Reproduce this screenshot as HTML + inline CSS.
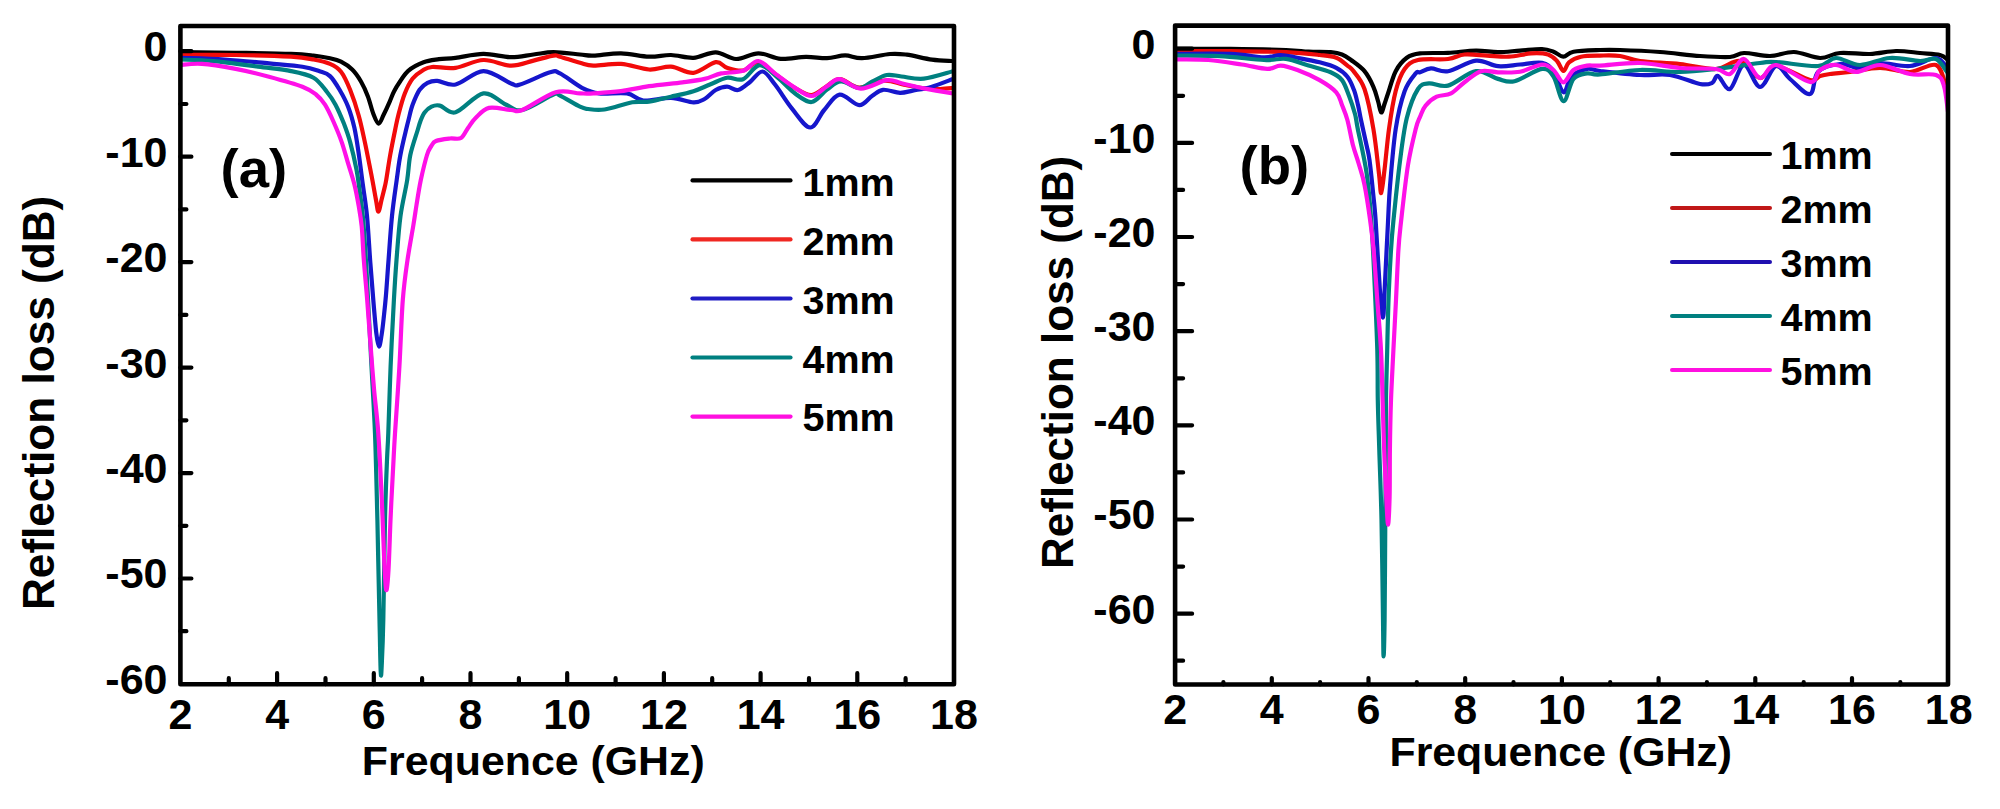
<!DOCTYPE html>
<html><head><meta charset="utf-8"><title>Reflection loss</title>
<style>html,body{margin:0;padding:0;background:#fff;overflow:hidden;width:2000px;height:809px}svg{display:block}</style>
</head><body>
<svg width="2000" height="809" viewBox="0 0 2000 809">
<rect width="2000" height="809" fill="#fff"/>
<clipPath id="ca"><rect x="180.4" y="26" width="773.6" height="658.2"/></clipPath>
<g clip-path="url(#ca)" fill="none" stroke-width="4.2" stroke-linejoin="round" stroke-linecap="round">
<path stroke="#000000" d="M180.0,52.2 C189.3,52.3 217.5,52.5 236.0,52.8 C254.5,53.1 278.1,53.4 291.0,53.9 C303.9,54.4 307.0,54.9 313.5,55.6 C320.0,56.3 325.4,57.3 330.0,58.3 C334.6,59.3 337.3,59.8 341.0,61.7 C344.7,63.6 348.8,66.2 352.2,69.5 C355.6,72.8 358.5,77.2 361.1,81.7 C363.7,86.2 365.8,90.8 367.8,96.2 C369.9,101.6 371.6,109.4 373.4,114.0 C375.2,118.6 376.9,123.4 378.6,123.6 C380.3,123.8 381.7,118.6 383.5,115.0 C385.3,111.4 387.9,105.7 389.6,101.8 C391.4,97.9 392.4,94.6 394.0,91.5 C395.6,88.4 396.5,86.7 398.9,83.3 C401.3,79.9 404.1,74.4 408.2,70.9 C412.3,67.4 418.5,64.2 423.6,62.3 C428.7,60.3 433.7,60.0 439.0,59.2 C444.3,58.5 448.2,58.7 455.6,57.8 C463.0,56.9 474.2,54.0 483.4,53.9 C492.6,53.8 502.6,57.1 511.0,57.2 C519.4,57.3 526.4,55.3 533.5,54.5 C540.6,53.7 545.8,52.2 553.5,52.2 C561.2,52.2 573.4,53.9 580.0,54.5 C586.6,55.1 586.6,55.8 593.4,55.6 C600.2,55.4 611.7,53.1 621.0,53.3 C630.3,53.5 640.7,56.4 649.0,56.7 C657.3,57.0 663.6,54.8 671.0,55.0 C678.4,55.2 686.0,58.2 693.5,57.8 C701.0,57.3 708.6,52.1 715.7,52.3 C722.8,52.5 728.9,58.8 736.0,59.0 C743.1,59.2 750.9,53.3 758.4,53.3 C765.9,53.3 772.9,58.3 780.8,58.9 C788.7,59.5 798.3,56.9 806.0,56.8 C813.7,56.7 820.5,58.4 827.0,58.2 C833.5,58.0 839.4,55.4 845.2,55.4 C851.0,55.4 854.5,58.4 862.0,58.2 C869.5,58.0 882.5,54.6 890.0,54.0 C897.5,53.4 899.8,53.8 906.8,54.7 C913.8,55.6 924.5,58.6 932.0,59.6 C939.5,60.6 948.3,60.8 951.6,61.0"/>
<path stroke="#f20a0a" d="M180.0,55.0 C189.3,55.0 217.5,54.7 236.0,55.0 C254.5,55.3 278.1,56.0 291.0,56.7 C303.9,57.5 307.0,58.3 313.5,59.5 C320.0,60.7 325.4,61.9 330.0,63.9 C334.6,65.9 337.6,67.4 341.0,71.7 C344.4,76.0 347.3,82.8 350.2,90.0 C353.1,97.2 356.2,106.5 358.6,115.2 C361.1,123.9 362.8,132.6 364.9,142.4 C367.0,152.2 369.3,164.3 371.2,173.9 C373.1,183.5 374.8,193.7 376.0,200.0 C377.2,206.3 377.5,211.7 378.4,211.7 C379.3,211.7 380.6,203.6 381.5,200.0 C382.4,196.4 383.2,193.3 384.0,190.0 C384.8,186.7 385.2,185.8 386.2,180.0 C387.2,174.2 388.7,163.3 390.2,155.0 C391.7,146.7 393.7,136.8 395.1,130.0 C396.5,123.2 396.9,120.6 398.5,114.5 C400.1,108.4 402.4,99.5 404.8,93.5 C407.2,87.5 409.7,82.3 412.7,78.5 C415.7,74.7 419.4,72.4 422.6,70.5 C425.8,68.6 426.5,67.5 432.0,67.0 C437.5,66.5 447.0,69.0 455.6,67.8 C464.2,66.6 474.2,60.4 483.4,60.0 C492.6,59.6 502.6,65.5 511.0,65.6 C519.4,65.7 526.4,62.3 533.5,60.6 C540.6,58.9 549.1,56.2 553.5,55.6 C557.9,55.0 555.6,55.5 560.0,56.7 C564.4,57.9 574.4,61.3 580.0,62.8 C585.6,64.3 586.6,65.4 593.4,65.6 C600.2,65.8 611.7,63.2 621.0,63.9 C630.3,64.5 640.7,69.0 649.0,69.5 C657.3,70.0 663.6,66.2 671.0,66.7 C678.4,67.2 686.0,73.5 693.5,72.8 C701.0,72.0 710.1,63.0 715.7,62.2 C721.3,61.4 722.5,66.4 727.0,67.8 C731.5,69.2 737.8,71.5 743.0,70.5 C748.2,69.5 753.1,61.4 758.4,62.0 C763.7,62.6 768.9,69.7 775.0,74.0 C781.1,78.3 788.9,84.5 795.0,88.0 C801.1,91.5 806.3,95.3 811.6,95.0 C816.9,94.7 822.3,88.7 827.0,86.0 C831.7,83.3 834.6,78.7 840.0,79.0 C845.4,79.3 851.8,87.3 859.2,87.6 C866.6,87.9 876.9,81.1 884.4,80.6 C891.9,80.1 897.2,83.5 904.0,84.8 C910.8,86.1 919.0,87.8 925.0,88.5 C931.0,89.2 935.3,89.1 940.0,89.0 C944.7,88.9 950.8,88.2 953.0,88.0"/>
<path stroke="#1616cc" d="M180.0,57.8 C187.4,58.1 209.7,58.6 224.5,59.5 C239.3,60.4 256.0,62.2 269.0,63.4 C282.0,64.6 294.1,65.4 302.4,66.7 C310.7,68.0 314.4,69.5 319.0,71.1 C323.6,72.7 326.6,72.9 330.0,76.1 C333.4,79.2 336.7,84.9 339.7,90.0 C342.7,95.1 345.7,100.5 348.1,106.8 C350.6,113.1 352.6,120.1 354.4,127.8 C356.1,135.5 357.2,143.5 358.6,152.9 C360.0,162.3 361.4,173.9 362.8,184.4 C364.2,194.9 365.8,203.4 367.0,215.9 C368.2,228.4 369.1,245.7 370.1,259.7 C371.2,273.7 372.3,287.8 373.3,300.0 C374.3,312.2 375.4,325.2 376.3,333.0 C377.2,340.8 378.1,346.2 379.0,346.5 C379.9,346.8 380.8,339.8 381.6,335.0 C382.4,330.2 383.0,324.5 383.7,318.0 C384.4,311.5 385.1,305.3 385.9,296.0 C386.7,286.7 387.4,275.3 388.4,262.0 C389.4,248.7 390.6,229.7 392.0,216.0 C393.4,202.3 395.3,190.2 396.7,180.0 C398.1,169.8 398.8,163.3 400.4,155.0 C401.9,146.7 404.6,135.8 406.0,130.0 C407.4,124.2 407.4,124.2 408.5,120.0 C409.6,115.8 410.8,109.6 412.7,104.6 C414.6,99.6 417.1,93.4 419.6,89.8 C422.1,86.2 424.5,84.3 427.5,82.8 C430.5,81.3 432.7,80.6 437.4,80.9 C442.1,81.2 447.9,86.1 455.6,84.5 C463.3,82.9 474.2,71.3 483.4,71.1 C492.6,70.9 504.9,81.2 511.0,83.4 C517.1,85.6 513.5,86.3 520.0,84.5 C526.5,82.7 543.3,74.1 550.0,72.3 C556.7,70.5 554.7,70.8 560.0,73.4 C565.3,76.0 575.5,84.5 582.0,87.8 C588.5,91.1 591.5,92.5 599.0,93.4 C606.5,94.3 619.6,92.2 627.0,93.4 C634.4,94.6 636.1,99.9 643.4,100.6 C650.7,101.3 662.6,97.5 671.0,97.8 C679.4,98.1 687.9,102.1 693.5,102.3 C699.1,102.5 700.9,101.0 704.6,99.0 C708.3,97.0 712.0,92.0 715.7,90.0 C719.4,88.0 723.3,86.7 727.0,86.7 C730.7,86.7 734.2,90.8 738.0,90.0 C741.8,89.2 745.9,85.1 750.0,82.0 C754.1,78.9 758.4,71.0 762.6,71.5 C766.8,72.0 770.3,78.6 775.2,84.8 C780.1,91.0 786.2,101.5 792.0,108.6 C797.8,115.7 804.8,127.3 810.2,127.5 C815.6,127.7 819.3,115.5 824.2,110.0 C829.1,104.5 833.8,95.4 839.6,94.6 C845.4,93.8 853.8,104.9 859.2,105.1 C864.6,105.3 868.0,98.5 872.0,96.0 C876.0,93.5 878.3,90.3 883.0,89.8 C887.7,89.3 895.0,92.7 900.0,92.8 C905.0,92.9 907.5,91.6 912.7,90.6 C917.9,89.6 924.5,88.8 931.2,86.9 C937.9,85.0 949.4,80.3 953.0,79.0"/>
<path stroke="#008080" d="M180.0,59.5 C185.6,59.8 200.4,59.9 213.4,61.1 C226.4,62.3 245.1,65.0 258.0,66.7 C270.9,68.4 281.8,69.2 291.0,71.1 C300.2,72.9 307.5,74.3 313.5,77.8 C319.5,81.3 323.3,87.5 327.0,92.0 C330.7,96.5 332.7,99.4 335.5,104.7 C338.3,110.0 341.4,117.3 343.9,123.6 C346.3,129.9 348.1,134.7 350.2,142.4 C352.3,150.1 354.9,161.6 356.5,169.7 C358.1,177.8 358.6,183.0 359.6,190.7 C360.7,198.4 361.8,204.4 362.8,215.9 C363.9,227.4 364.9,244.0 365.9,259.7 C366.9,275.4 367.7,292.2 368.6,310.0 C369.5,327.8 370.4,346.1 371.5,366.7 C372.6,387.2 374.0,407.8 375.0,433.3 C376.0,458.9 376.6,488.9 377.4,520.0 C378.1,551.1 378.9,594.7 379.5,620.0 C380.1,645.3 380.3,664.0 380.7,671.7 C381.1,679.4 381.3,674.6 381.7,666.0 C382.1,657.4 382.8,644.3 383.3,620.0 C383.9,595.7 384.4,546.7 385.0,520.0 C385.6,493.3 386.4,474.5 387.0,460.0 C387.6,445.5 387.7,448.6 388.3,433.0 C388.9,417.4 389.7,388.9 390.6,366.7 C391.5,344.5 392.9,317.8 393.9,300.0 C394.9,282.2 395.4,274.0 396.5,260.0 C397.6,246.0 398.7,229.3 400.5,216.0 C402.3,202.7 405.6,190.2 407.2,180.0 C408.8,169.8 408.6,163.3 410.3,155.0 C412.1,146.7 416.0,135.7 417.7,130.0 C419.4,124.3 419.4,123.9 420.5,121.0 C421.6,118.1 422.8,114.9 424.6,112.5 C426.4,110.1 428.9,107.8 431.5,106.6 C434.1,105.4 436.0,104.6 440.0,105.6 C444.0,106.5 448.4,114.3 455.6,112.3 C462.8,110.3 475.0,94.7 483.4,93.4 C491.8,92.1 499.2,101.7 505.7,104.5 C512.2,107.3 514.4,111.7 522.4,110.0 C530.4,108.3 547.2,96.9 553.5,94.5 C559.8,92.1 555.6,93.6 560.0,95.6 C564.4,97.6 575.3,104.5 580.0,106.7 C584.7,108.9 583.9,108.5 588.0,109.0 C592.1,109.5 597.1,110.6 604.5,109.5 C611.9,108.4 624.9,103.6 632.3,102.3 C639.7,101.0 642.5,102.6 649.0,101.7 C655.5,100.8 663.6,98.5 671.0,96.7 C678.4,95.0 687.0,93.2 693.5,91.2 C700.0,89.2 704.4,86.7 710.0,84.5 C715.6,82.3 721.5,78.7 727.0,77.8 C732.5,76.9 737.5,81.3 743.0,79.2 C748.5,77.1 754.0,65.4 759.8,65.2 C765.6,65.0 772.2,73.1 778.0,77.8 C783.8,82.5 789.2,89.2 794.8,93.2 C800.4,97.2 806.2,102.6 811.6,102.0 C817.0,101.4 822.1,92.9 827.0,89.5 C831.9,86.1 835.6,81.8 841.0,81.5 C846.4,81.2 854.0,88.0 859.2,88.0 C864.4,88.0 867.4,83.9 872.0,81.7 C876.6,79.5 881.8,75.9 886.7,75.0 C891.6,74.1 895.3,75.9 901.5,76.5 C907.7,77.1 915.2,79.6 923.8,78.7 C932.4,77.8 948.1,72.5 953.0,71.3"/>
<path stroke="#ff10e8" d="M180.0,65.0 C183.7,64.8 192.7,63.2 202.0,63.9 C211.3,64.5 224.4,66.8 235.6,68.9 C246.8,71.0 257.9,73.7 269.0,76.7 C280.1,79.7 294.6,83.7 302.4,86.7 C310.2,89.7 312.2,91.5 316.0,94.5 C319.8,97.5 322.1,100.2 325.0,104.7 C327.9,109.2 330.6,115.2 333.4,121.5 C336.2,127.8 339.4,135.4 341.8,142.4 C344.2,149.4 346.0,156.4 348.1,163.4 C350.2,170.4 352.6,177.4 354.4,184.4 C356.1,191.4 357.4,198.4 358.6,205.4 C359.8,212.4 360.8,217.4 361.7,226.4 C362.6,235.4 362.9,247.4 363.8,259.7 C364.7,272.0 366.1,285.9 367.2,300.0 C368.3,314.1 369.4,329.6 370.5,344.4 C371.6,359.2 372.7,374.1 374.0,388.9 C375.3,403.7 377.0,414.8 378.3,433.3 C379.6,451.8 380.8,478.9 381.8,500.0 C382.8,521.1 383.5,545.0 384.2,560.0 C384.9,575.0 385.5,588.3 386.2,590.0 C386.9,591.7 387.8,581.7 388.5,570.0 C389.2,558.3 389.8,536.7 390.5,520.0 C391.2,503.3 392.2,484.4 393.0,470.0 C393.8,455.6 393.9,450.5 395.0,433.3 C396.1,416.1 398.1,388.9 399.4,366.7 C400.7,344.5 401.4,317.8 402.8,300.0 C404.2,282.2 405.7,272.5 407.5,260.0 C409.3,247.5 411.9,234.2 413.4,225.0 C414.9,215.8 415.3,212.5 416.5,205.0 C417.7,197.5 419.1,188.3 420.8,180.0 C422.6,171.7 425.3,160.6 427.0,155.0 C428.7,149.4 429.5,148.8 431.0,146.5 C432.5,144.2 432.8,142.3 436.0,141.0 C439.2,139.7 445.8,139.0 450.0,138.5 C454.2,138.0 458.0,139.8 461.0,138.0 C464.0,136.2 465.6,131.3 468.0,128.0 C470.4,124.7 472.1,121.3 475.6,118.0 C479.1,114.7 483.1,109.2 489.0,107.9 C494.9,106.6 505.4,109.7 511.0,110.0 C516.6,110.3 514.9,113.0 522.4,110.0 C529.9,107.0 546.1,95.1 555.7,92.3 C565.3,89.5 573.7,93.2 580.0,93.4 C586.3,93.6 586.6,93.8 593.4,93.4 C600.2,93.0 611.7,92.4 621.0,91.2 C630.3,90.0 638.8,87.7 649.0,86.2 C659.2,84.7 673.1,83.5 682.4,82.3 C691.7,81.1 698.1,80.4 704.6,78.9 C711.1,77.4 714.9,74.8 721.3,73.4 C727.7,72.1 736.8,72.9 743.0,70.8 C749.2,68.7 753.0,60.5 758.4,61.0 C763.8,61.5 769.1,69.2 775.2,73.6 C781.3,78.0 788.7,83.9 794.8,87.6 C800.9,91.3 806.2,96.2 811.6,96.0 C817.0,95.8 822.3,89.0 827.0,86.2 C831.7,83.4 834.0,78.8 839.6,79.2 C845.2,79.6 852.9,88.4 860.8,88.6 C868.6,88.8 879.9,81.1 886.7,80.2 C893.5,79.3 895.3,81.8 901.5,83.2 C907.7,84.6 915.2,86.7 923.8,88.4 C932.4,90.1 948.1,92.7 953.0,93.5"/>
</g>
<path d="M228.8,684.2 v-6 M277.1,684.2 v-11 M325.5,684.2 v-6 M373.8,684.2 v-11 M422.1,684.2 v-6 M470.5,684.2 v-11 M518.9,684.2 v-6 M567.2,684.2 v-11 M615.6,684.2 v-6 M663.9,684.2 v-11 M712.2,684.2 v-6 M760.6,684.2 v-11 M809.0,684.2 v-6 M857.3,684.2 v-11 M905.6,684.2 v-6 M180.4,51.2 h11 M180.4,104.0 h6 M180.4,156.7 h11 M180.4,209.4 h6 M180.4,262.1 h11 M180.4,314.9 h6 M180.4,367.6 h11 M180.4,420.3 h6 M180.4,473.1 h11 M180.4,525.8 h6 M180.4,578.5 h11 M180.4,631.2 h6" stroke="#000" stroke-width="4.2" stroke-linecap="round" fill="none"/>
<rect x="180.4" y="26" width="773.6" height="658.2" fill="none" stroke="#000" stroke-width="4.6" stroke-linejoin="round"/>
<g font-family="Liberation Sans, Arial, sans-serif" font-weight="bold" font-size="43" fill="#000">
<text x="180.4" y="729" text-anchor="middle">2</text>
<text x="277.1" y="729" text-anchor="middle">4</text>
<text x="373.8" y="729" text-anchor="middle">6</text>
<text x="470.5" y="729" text-anchor="middle">8</text>
<text x="567.2" y="729" text-anchor="middle">10</text>
<text x="663.9" y="729" text-anchor="middle">12</text>
<text x="760.6" y="729" text-anchor="middle">14</text>
<text x="857.3" y="729" text-anchor="middle">16</text>
<text x="954.0" y="729" text-anchor="middle">18</text>
<text x="167.5" y="61.1" text-anchor="end">0</text>
<text x="167.5" y="166.6" text-anchor="end">-10</text>
<text x="167.5" y="272.0" text-anchor="end">-20</text>
<text x="167.5" y="377.5" text-anchor="end">-30</text>
<text x="167.5" y="482.9" text-anchor="end">-40</text>
<text x="167.5" y="588.4" text-anchor="end">-50</text>
<text x="167.5" y="693.9" text-anchor="end">-60</text>
</g>
<text font-family="Liberation Sans, Arial, sans-serif" font-weight="bold" font-size="41" x="361.8" y="775.3" textLength="343" lengthAdjust="spacingAndGlyphs">Frequence (GHz)</text>
<text font-family="Liberation Sans, Arial, sans-serif" font-weight="bold" font-size="44" transform="translate(54.4,610) rotate(-90)" x="0" y="0" textLength="414.2" lengthAdjust="spacingAndGlyphs">Reflection loss (dB)</text>
<text font-family="Liberation Sans, Arial, sans-serif" font-weight="bold" font-size="54.5" x="220.5" y="187">(a)</text>
<g stroke-width="4.2" stroke-linecap="round">
<line x1="692.5" x2="790.5" y1="180.4" y2="180.4" stroke="#000"/>
<line x1="692.5" x2="790.5" y1="239.4" y2="239.4" stroke="#f02822"/>
<line x1="692.5" x2="790.5" y1="298.5" y2="298.5" stroke="#201cc4"/>
<line x1="692.5" x2="790.5" y1="357.5" y2="357.5" stroke="#008080"/>
<line x1="692.5" x2="790.5" y1="416.6" y2="416.6" stroke="#ff10e0"/>
</g>
<g font-family="Liberation Sans, Arial, sans-serif" font-weight="bold" font-size="39.5" fill="#000">
<text x="802.5" y="195.8">1mm</text>
<text x="802.5" y="254.7">2mm</text>
<text x="802.5" y="313.6">3mm</text>
<text x="802.5" y="372.5">4mm</text>
<text x="802.5" y="431.4">5mm</text>
</g>
<clipPath id="cb"><rect x="1175.1" y="25.6" width="772.9000000000001" height="658.9"/></clipPath>
<g clip-path="url(#cb)" fill="none" stroke-width="4.2" stroke-linejoin="round" stroke-linecap="round">
<path stroke="#000000" d="M1175.0,48.9 C1184.3,48.9 1212.1,48.7 1230.6,48.9 C1249.1,49.1 1273.0,49.5 1286.0,50.0 C1299.0,50.5 1301.0,51.3 1308.5,51.7 C1316.0,52.1 1325.1,51.7 1330.7,52.2 C1336.3,52.7 1338.6,53.2 1342.0,54.5 C1345.4,55.8 1347.2,57.2 1351.0,60.0 C1354.8,62.8 1360.8,66.7 1364.5,71.2 C1368.2,75.7 1371.2,81.8 1373.4,86.8 C1375.7,91.8 1376.7,96.7 1378.0,101.0 C1379.3,105.3 1380.1,111.9 1381.2,112.4 C1382.3,112.9 1383.4,107.2 1384.5,104.0 C1385.6,100.8 1386.1,99.0 1388.0,93.5 C1389.9,88.0 1392.6,77.2 1395.7,71.2 C1398.8,65.2 1402.8,60.8 1406.8,57.8 C1410.8,54.8 1413.1,54.2 1420.0,53.4 C1426.9,52.6 1438.7,53.3 1448.0,52.8 C1457.3,52.3 1467.7,50.7 1476.0,50.6 C1484.3,50.5 1490.7,52.2 1498.0,52.2 C1505.3,52.2 1512.7,51.1 1520.0,50.6 C1527.3,50.1 1536.4,48.8 1542.0,49.0 C1547.6,49.2 1549.9,50.4 1553.5,51.7 C1557.1,53.0 1560.2,56.7 1563.5,56.7 C1566.8,56.7 1567.4,52.8 1573.5,51.7 C1579.6,50.6 1592.2,50.3 1600.0,50.0 C1607.8,49.7 1610.0,49.7 1620.0,50.0 C1630.0,50.3 1646.7,51.0 1660.0,52.0 C1673.3,53.0 1688.3,55.2 1700.0,56.0 C1711.7,56.8 1722.7,57.5 1730.0,57.0 C1737.3,56.5 1737.3,53.2 1744.0,53.0 C1750.7,52.8 1761.7,56.2 1770.0,56.0 C1778.3,55.8 1785.7,51.7 1794.0,52.0 C1802.3,52.3 1812.3,57.8 1820.0,58.0 C1827.7,58.2 1831.7,53.7 1840.0,53.0 C1848.3,52.3 1860.7,54.3 1870.0,54.0 C1879.3,53.7 1887.7,51.2 1896.0,51.0 C1904.3,50.8 1912.7,52.3 1920.0,53.0 C1927.3,53.7 1935.3,53.8 1940.0,55.0 C1944.7,56.2 1946.7,59.2 1948.0,60.0"/>
<path stroke="#ee0a0a" d="M1175.0,51.1 C1184.3,51.1 1212.1,50.9 1230.6,51.1 C1249.1,51.3 1271.2,51.6 1286.0,52.2 C1300.8,52.9 1311.2,54.1 1319.6,55.0 C1328.0,55.9 1331.7,56.0 1336.3,57.8 C1340.9,59.6 1344.6,63.4 1347.4,65.6 C1350.2,67.8 1350.6,67.1 1353.4,71.0 C1356.2,74.9 1361.2,79.3 1364.5,89.0 C1367.8,98.7 1371.0,114.9 1373.4,129.0 C1375.8,143.1 1377.7,163.0 1379.0,173.7 C1380.3,184.4 1380.3,193.8 1381.2,193.0 C1382.1,192.2 1383.3,179.7 1384.6,169.0 C1385.9,158.3 1387.2,142.0 1389.0,129.0 C1390.8,116.0 1393.1,101.0 1395.7,91.0 C1398.3,81.0 1400.9,74.2 1404.6,69.0 C1408.3,63.8 1410.8,61.7 1418.0,60.0 C1425.2,58.3 1440.2,59.9 1448.0,59.0 C1455.8,58.1 1458.0,55.1 1464.5,54.5 C1471.0,53.9 1479.6,55.2 1487.0,55.6 C1494.4,56.0 1501.7,57.1 1509.0,56.7 C1516.3,56.3 1524.5,53.8 1531.0,53.4 C1537.5,53.0 1543.7,53.2 1548.0,54.5 C1552.3,55.8 1554.4,58.2 1557.0,61.0 C1559.6,63.8 1561.5,70.8 1563.5,71.0 C1565.5,71.2 1566.1,64.7 1569.0,62.3 C1571.9,59.9 1575.8,57.8 1581.0,56.7 C1586.2,55.6 1593.5,55.7 1600.0,55.6 C1606.5,55.5 1613.3,55.1 1620.0,56.0 C1626.7,56.9 1630.0,59.7 1640.0,61.0 C1650.0,62.3 1667.3,62.7 1680.0,64.0 C1692.7,65.3 1706.0,69.5 1716.0,69.0 C1726.0,68.5 1732.7,59.5 1740.0,61.0 C1747.3,62.5 1754.0,77.2 1760.0,78.0 C1766.0,78.8 1767.7,65.7 1776.0,66.0 C1784.3,66.3 1802.7,78.3 1810.0,80.0 C1817.3,81.7 1816.7,77.0 1820.0,76.0 C1823.3,75.0 1825.0,74.7 1830.0,74.0 C1835.0,73.3 1841.7,73.0 1850.0,72.0 C1858.3,71.0 1870.0,68.0 1880.0,68.0 C1890.0,68.0 1900.7,72.5 1910.0,72.0 C1919.3,71.5 1930.0,62.7 1936.0,65.0 C1942.0,67.3 1943.8,81.5 1946.0,86.0 C1948.2,90.5 1948.5,91.0 1949.0,92.0"/>
<path stroke="#1616cc" d="M1175.0,53.9 C1184.3,53.9 1215.8,53.3 1230.6,53.9 C1245.4,54.5 1255.7,57.1 1264.0,57.3 C1272.3,57.5 1275.1,54.9 1280.7,55.0 C1286.3,55.1 1290.9,56.6 1297.4,57.8 C1303.9,59.0 1313.1,60.6 1319.6,62.3 C1326.1,64.0 1331.7,65.4 1336.3,67.8 C1340.9,70.2 1344.5,73.0 1347.4,76.7 C1350.4,80.4 1352.2,85.3 1354.0,90.0 C1355.8,94.7 1356.8,100.0 1358.0,105.0 C1359.2,110.0 1359.6,113.3 1361.0,120.0 C1362.4,126.7 1365.1,138.3 1366.5,145.0 C1367.9,151.7 1368.3,151.5 1369.5,160.0 C1370.7,168.5 1372.4,185.9 1373.4,195.9 C1374.4,205.9 1374.5,204.6 1375.6,220.0 C1376.7,235.4 1378.6,272.3 1379.8,288.6 C1381.0,304.9 1382.2,317.6 1383.0,317.6 C1383.8,317.6 1383.9,304.5 1384.7,288.6 C1385.5,272.7 1387.1,239.3 1388.0,222.0 C1388.9,204.7 1388.8,200.5 1390.1,185.0 C1391.4,169.5 1393.3,144.6 1395.7,129.0 C1398.1,113.4 1401.3,100.5 1404.6,91.2 C1407.9,81.9 1413.1,76.6 1415.7,73.4 C1418.3,70.2 1417.5,73.1 1420.0,72.3 C1422.5,71.5 1426.3,68.6 1431.0,68.4 C1435.7,68.2 1440.5,72.5 1448.0,71.2 C1455.5,69.9 1467.7,61.4 1476.0,60.6 C1484.3,59.8 1490.7,65.5 1498.0,66.2 C1505.3,66.9 1512.7,65.1 1520.0,64.5 C1527.3,63.9 1536.4,61.7 1542.0,62.8 C1547.6,63.9 1549.9,66.3 1553.5,71.2 C1557.1,76.1 1560.5,91.4 1563.5,92.3 C1566.5,93.2 1567.4,80.6 1571.3,76.7 C1575.2,72.8 1582.2,69.9 1587.0,68.9 C1591.8,68.0 1591.2,70.0 1600.0,71.0 C1608.8,72.0 1628.3,74.3 1640.0,75.0 C1651.7,75.7 1660.0,73.5 1670.0,75.0 C1680.0,76.5 1693.0,82.7 1700.0,84.0 C1707.0,85.3 1709.0,84.3 1712.0,83.0 C1715.0,81.7 1715.0,75.0 1718.0,76.0 C1721.0,77.0 1725.7,90.8 1730.0,89.0 C1734.3,87.2 1739.0,65.3 1744.0,65.0 C1749.0,64.7 1754.7,86.8 1760.0,87.0 C1765.3,87.2 1771.0,67.3 1776.0,66.0 C1781.0,64.7 1784.3,74.3 1790.0,79.0 C1795.7,83.7 1805.3,95.2 1810.0,94.0 C1814.7,92.8 1813.0,77.0 1818.0,72.0 C1823.0,67.0 1833.0,64.7 1840.0,64.0 C1847.0,63.3 1853.3,68.2 1860.0,68.0 C1866.7,67.8 1871.7,63.3 1880.0,63.0 C1888.3,62.7 1900.7,66.8 1910.0,66.0 C1919.3,65.2 1929.8,57.7 1936.0,58.0 C1942.2,58.3 1945.2,66.3 1947.0,68.0"/>
<path stroke="#008080" d="M1175.0,55.6 C1182.4,55.7 1204.7,55.4 1219.5,56.1 C1234.3,56.8 1252.9,59.5 1264.0,60.0 C1275.1,60.5 1278.6,58.0 1286.0,58.9 C1293.4,59.8 1301.0,63.4 1308.5,65.6 C1316.0,67.8 1325.1,69.9 1330.7,72.3 C1336.3,74.7 1339.0,76.2 1342.0,80.1 C1345.0,84.0 1346.8,90.0 1349.0,95.7 C1351.2,101.4 1353.5,108.5 1355.0,114.0 C1356.5,119.5 1355.8,119.0 1357.8,129.0 C1359.8,138.9 1364.5,158.5 1366.7,173.7 C1368.9,188.9 1370.0,203.9 1371.2,220.0 C1372.4,236.1 1373.0,248.3 1374.0,270.0 C1375.0,291.7 1376.7,328.3 1377.3,350.0 C1377.9,371.7 1377.5,383.3 1377.8,400.0 C1378.1,416.7 1378.7,430.0 1379.3,450.0 C1379.9,470.0 1380.9,491.7 1381.5,520.0 C1382.1,548.3 1382.7,597.3 1383.0,620.0 C1383.3,642.7 1383.3,656.4 1383.6,656.4 C1383.9,656.4 1384.3,642.7 1384.6,620.0 C1384.9,597.3 1385.1,548.3 1385.3,520.0 C1385.5,491.7 1385.7,470.0 1385.8,450.0 C1385.9,430.0 1385.8,416.7 1386.0,400.0 C1386.2,383.3 1386.8,366.7 1387.2,350.0 C1387.6,333.3 1387.9,316.7 1388.5,300.0 C1389.1,283.3 1390.2,263.3 1391.0,250.0 C1391.8,236.7 1392.0,234.8 1393.5,220.0 C1395.0,205.2 1397.8,178.0 1400.0,161.0 C1402.2,144.0 1403.8,130.0 1406.8,118.0 C1409.8,106.0 1414.3,94.8 1418.0,89.0 C1421.7,83.2 1424.0,84.0 1429.0,83.4 C1434.0,82.8 1440.2,87.6 1448.0,85.6 C1455.8,83.6 1467.7,72.3 1476.0,71.2 C1484.3,70.1 1491.6,77.2 1498.0,78.9 C1504.4,80.6 1507.2,82.9 1514.5,81.2 C1521.8,79.5 1535.5,69.7 1542.0,68.9 C1548.5,68.2 1549.9,71.3 1553.5,76.7 C1557.1,82.1 1560.2,100.8 1563.5,101.2 C1566.8,101.6 1569.6,83.5 1573.5,78.9 C1577.4,74.3 1582.6,74.1 1587.0,73.4 C1591.4,72.7 1591.2,75.1 1600.0,74.5 C1608.8,73.9 1626.7,70.4 1640.0,70.0 C1653.3,69.6 1667.3,72.2 1680.0,72.0 C1692.7,71.8 1702.7,70.5 1716.0,69.0 C1729.3,67.5 1750.0,64.2 1760.0,63.0 C1770.0,61.8 1766.3,61.5 1776.0,62.0 C1785.7,62.5 1808.0,66.7 1818.0,66.0 C1828.0,65.3 1829.0,58.2 1836.0,58.0 C1843.0,57.8 1851.0,65.0 1860.0,65.0 C1869.0,65.0 1880.0,58.7 1890.0,58.0 C1900.0,57.3 1912.3,60.8 1920.0,61.0 C1927.7,61.2 1931.5,57.2 1936.0,59.0 C1940.5,60.8 1945.2,69.8 1947.0,72.0"/>
<path stroke="#ff10e8" d="M1175.0,59.5 C1180.6,59.6 1197.3,59.2 1208.4,60.0 C1219.5,60.8 1231.9,63.0 1241.7,64.5 C1251.5,66.0 1260.8,68.7 1267.3,68.9 C1273.8,69.1 1275.7,65.4 1280.7,65.6 C1285.7,65.8 1290.9,67.6 1297.4,70.0 C1303.9,72.4 1313.1,76.4 1319.6,80.1 C1326.1,83.8 1332.6,88.1 1336.3,92.3 C1340.0,96.5 1340.2,100.4 1342.0,105.0 C1343.8,109.6 1345.6,113.3 1347.4,120.0 C1349.2,126.7 1351.1,137.8 1352.9,145.0 C1354.8,152.2 1356.6,156.4 1358.5,163.0 C1360.4,169.6 1362.6,175.3 1364.5,184.8 C1366.4,194.3 1368.6,209.1 1370.1,220.0 C1371.6,230.9 1372.4,236.7 1373.6,250.0 C1374.8,263.3 1376.1,283.3 1377.3,300.0 C1378.5,316.7 1380.1,333.3 1381.0,350.0 C1381.9,366.7 1382.1,383.3 1382.6,400.0 C1383.1,416.7 1383.6,433.8 1384.2,450.0 C1384.8,466.2 1385.7,484.6 1386.3,497.0 C1386.9,509.4 1387.5,524.7 1388.1,524.7 C1388.6,524.7 1389.3,509.4 1389.6,497.0 C1389.9,484.6 1389.7,466.2 1389.9,450.0 C1390.1,433.8 1390.4,416.7 1391.0,400.0 C1391.6,383.3 1392.6,366.7 1393.4,350.0 C1394.2,333.3 1395.2,316.7 1396.0,300.0 C1396.8,283.3 1397.6,263.0 1398.4,250.0 C1399.2,237.0 1399.4,236.2 1401.0,222.0 C1402.6,207.8 1405.5,180.5 1408.0,165.0 C1410.5,149.5 1413.7,137.0 1415.7,129.0 C1417.7,121.0 1418.3,120.7 1420.0,116.8 C1421.7,112.9 1422.8,108.9 1425.6,105.6 C1428.4,102.2 1432.5,98.7 1436.7,96.7 C1440.9,94.7 1446.4,95.8 1451.0,93.4 C1455.6,91.0 1459.5,86.0 1464.5,82.3 C1469.5,78.6 1475.4,72.9 1481.0,71.2 C1486.6,69.5 1491.5,72.2 1498.0,72.3 C1504.5,72.4 1512.7,73.0 1520.0,71.7 C1527.3,70.4 1536.4,64.8 1542.0,64.5 C1547.6,64.2 1549.9,67.0 1553.5,70.0 C1557.1,73.0 1560.2,82.3 1563.5,82.3 C1566.8,82.3 1569.6,72.8 1573.5,70.0 C1577.4,67.2 1582.6,66.3 1587.0,65.6 C1591.4,64.9 1591.2,66.0 1600.0,65.6 C1608.8,65.2 1626.7,62.6 1640.0,63.0 C1653.3,63.4 1667.3,67.0 1680.0,68.0 C1692.7,69.0 1707.7,68.0 1716.0,69.0 C1724.3,70.0 1725.3,75.7 1730.0,74.0 C1734.7,72.3 1739.0,58.3 1744.0,59.0 C1749.0,59.7 1754.7,77.0 1760.0,78.0 C1765.3,79.0 1767.7,64.3 1776.0,65.0 C1784.3,65.7 1802.7,81.2 1810.0,82.0 C1817.3,82.8 1815.7,72.8 1820.0,70.0 C1824.3,67.2 1830.0,64.7 1836.0,65.0 C1842.0,65.3 1848.7,72.0 1856.0,72.0 C1863.3,72.0 1871.0,64.7 1880.0,65.0 C1889.0,65.3 1900.7,72.3 1910.0,74.0 C1919.3,75.7 1930.3,73.0 1936.0,75.0 C1941.7,77.0 1942.0,79.8 1944.0,86.0 C1946.0,92.2 1947.3,107.7 1948.0,112.0"/>
</g>
<path d="M1223.4,684.5 v-2.5 M1271.8,684.5 v-6.5 M1320.1,684.5 v-2.5 M1368.5,684.5 v-6.5 M1416.8,684.5 v-2.5 M1465.2,684.5 v-6.5 M1513.5,684.5 v-2.5 M1561.9,684.5 v-6.5 M1610.2,684.5 v-2.5 M1658.6,684.5 v-6.5 M1706.9,684.5 v-2.5 M1755.3,684.5 v-6.5 M1803.7,684.5 v-2.5 M1852.0,684.5 v-6.5 M1900.3,684.5 v-2.5 M1175.1,48.7 h17 M1175.1,95.8 h8 M1175.1,142.9 h17 M1175.1,189.9 h8 M1175.1,237.0 h17 M1175.1,284.1 h8 M1175.1,331.2 h17 M1175.1,378.3 h8 M1175.1,425.3 h17 M1175.1,472.4 h8 M1175.1,519.5 h17 M1175.1,566.6 h8 M1175.1,613.7 h17 M1175.1,660.7 h8" stroke="#000" stroke-width="4.2" stroke-linecap="round" fill="none"/>
<rect x="1175.1" y="25.6" width="772.9000000000001" height="658.9" fill="none" stroke="#000" stroke-width="4.6" stroke-linejoin="round"/>
<g font-family="Liberation Sans, Arial, sans-serif" font-weight="bold" font-size="43" fill="#000">
<text x="1175.1" y="724.2" text-anchor="middle">2</text>
<text x="1271.8" y="724.2" text-anchor="middle">4</text>
<text x="1368.5" y="724.2" text-anchor="middle">6</text>
<text x="1465.2" y="724.2" text-anchor="middle">8</text>
<text x="1561.9" y="724.2" text-anchor="middle">10</text>
<text x="1658.6" y="724.2" text-anchor="middle">12</text>
<text x="1755.3" y="724.2" text-anchor="middle">14</text>
<text x="1852.0" y="724.2" text-anchor="middle">16</text>
<text x="1948.7" y="724.2" text-anchor="middle">18</text>
<text x="1155.5" y="58.6" text-anchor="end">0</text>
<text x="1155.5" y="152.8" text-anchor="end">-10</text>
<text x="1155.5" y="246.9" text-anchor="end">-20</text>
<text x="1155.5" y="341.1" text-anchor="end">-30</text>
<text x="1155.5" y="435.2" text-anchor="end">-40</text>
<text x="1155.5" y="529.4" text-anchor="end">-50</text>
<text x="1155.5" y="623.6" text-anchor="end">-60</text>
</g>
<text font-family="Liberation Sans, Arial, sans-serif" font-weight="bold" font-size="41" x="1389.5" y="765.6" textLength="342.5" lengthAdjust="spacingAndGlyphs">Frequence (GHz)</text>
<text font-family="Liberation Sans, Arial, sans-serif" font-weight="bold" font-size="44" transform="translate(1072.7,569) rotate(-90)" x="0" y="0" textLength="413.2" lengthAdjust="spacingAndGlyphs">Reflection loss (dB)</text>
<text font-family="Liberation Sans, Arial, sans-serif" font-weight="bold" font-size="54.5" x="1239.5" y="184.3">(b)</text>
<g stroke-width="4.0" stroke-linecap="round">
<line x1="1672" x2="1770" y1="154.1" y2="154.1" stroke="#000"/>
<line x1="1672" x2="1770" y1="208.1" y2="208.1" stroke="#c01818"/>
<line x1="1672" x2="1770" y1="262.1" y2="262.1" stroke="#2010b0"/>
<line x1="1672" x2="1770" y1="316.1" y2="316.1" stroke="#008080"/>
<line x1="1672" x2="1770" y1="370.1" y2="370.1" stroke="#ff10e0"/>
</g>
<g font-family="Liberation Sans, Arial, sans-serif" font-weight="bold" font-size="39.5" fill="#000">
<text x="1780.5" y="169.2">1mm</text>
<text x="1780.5" y="223.2">2mm</text>
<text x="1780.5" y="277.2">3mm</text>
<text x="1780.5" y="331.2">4mm</text>
<text x="1780.5" y="385.2">5mm</text>
</g>
</svg>
</body></html>
